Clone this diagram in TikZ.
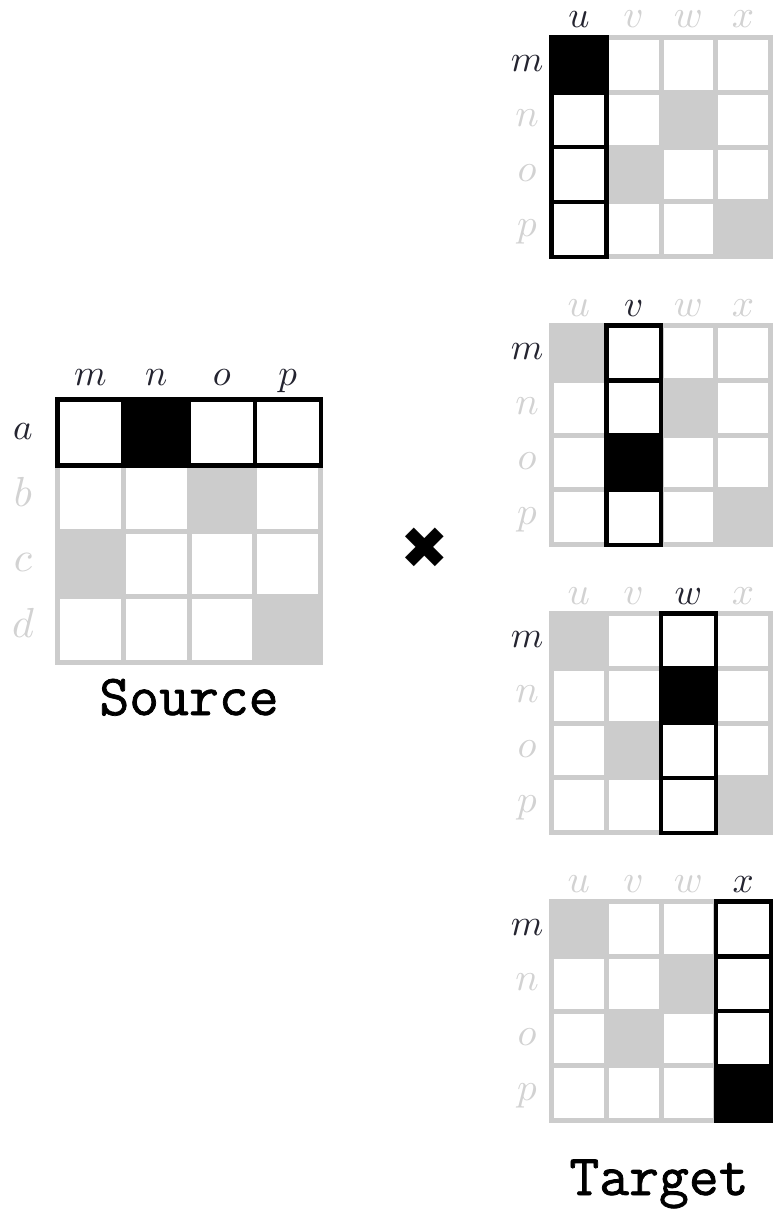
\documentclass[tikz,border=0pt]{standalone}
\usepackage{fontspec}
\newfontfamily\symfont{DejaVu Sans}
\newfontfamily\titlefont[FakeBold=1.3]{Latin Modern Mono}
\definecolor{cellgray}{RGB}{204,204,204}
\definecolor{lblgray}{RGB}{210,210,210}
\definecolor{lbldark}{RGB}{36,36,48}
\tikzset{
  lbl/.style={anchor=base,inner sep=0pt,font=\fontsize{10}{10}\selectfont},
  lblon/.style={lbl,text=lbldark,scale=3.7},
  lbloff/.style={lbl,text=lblgray,scale=3.9},
  lbloffbig/.style={lbl,text=lblgray,scale=4.2},
  hl/.style={draw=black,line width=4.5pt},
  titlelbl/.style={anchor=base,inner sep=0pt,font=\fontsize{58}{58}\selectfont\titlefont},
}
\def\TX{549}\def\TW{224}\def\TP{54.75}
% #1 top, #2 highlighted column, #3 black row, #4 name prefix
\newcommand\drawtarget[4]{%
  \fill[cellgray] (\TX,#1) rectangle ++(\TW,\TW);
  \foreach \r/\pc in {0/0,1/2,2/1,3/3}{
    \foreach \c in {0,...,3}{
      \ifnum\c=\pc\relax\else
        \fill[white] ({\TX+5+\c*\TP},{#1+5+\r*\TP}) rectangle ++(\TP-5,\TP-5);
      \fi
    }
  }
  \pgfmathsetmacro{\gx}{\TX+2.5+#2*\TP}
  \pgfmathsetmacro{\xl}{#2==0 ? \TX+2.25 : \gx}
  \pgfmathsetmacro{\xr}{#2==3 ? \TX+\TW-2.25 : \gx+\TP}
  \fill[white] (\gx,{#1+2.5}) rectangle ++(\TP,4*\TP);
  \fill[black] (\gx,{#1+2.5+#3*\TP}) rectangle ++(\TP,\TP);
  \draw[hl] (\xl,{#1+2.25}) rectangle (\xr,{#1+\TW-2.25});
  \foreach \r in {1,2,3}{
    \draw[hl] (\xl,{#1+2.5+\r*\TP}) -- (\xr,{#1+2.5+\r*\TP});
  }
  \foreach \c/\l in {0/u,1/v,2/w,3/x}{
    \ifnum\c=#2\relax
      \node[lblon] (#4-\l) at ({\TX+2.5+(\c+0.5)*\TP},{#1-7}) {$\l$};
    \else
      \node[lbloff] (#4-\l) at ({\TX+2.5+(\c+0.5)*\TP},{#1-7}) {$\l$};
    \fi
  }
  \foreach \r/\l in {0/m,1/n,2/o,3/p}{
    \ifnum\r=0\relax
      \node[lblon] (#4-\l) at (527,{#1+2.5+(\r+0.5)*\TP+7}) {$\l$};
    \else
      \node[lbloff] (#4-\l) at (527,{#1+2.5+(\r+0.5)*\TP+7}) {$\l$};
    \fi
  }
}
\begin{document}
\begin{tikzpicture}[x=1pt,y=-1pt]
\useasboundingbox (0,0) rectangle (772,1215);
% ---------- source ----------
\def\SX{55}\def\SY{397}\def\SW{268}\def\SP{65.75}
\fill[cellgray] (\SX,\SY) rectangle ++(\SW,\SW);
\foreach \r/\pc in {0/1,1/2,2/0,3/3}{
  \foreach \c in {0,...,3}{
    \ifnum\c=\pc\relax\else
      \fill[white] ({\SX+5+\c*\SP},{\SY+5+\r*\SP}) rectangle ++(\SP-5,\SP-5);
    \fi
  }
}
\fill[white] ({\SX+2.5},{\SY+2.5}) rectangle ++(4*\SP,\SP);
\fill[black] ({\SX+2.5+\SP},{\SY+2.5}) rectangle ++(\SP,\SP);
\draw[hl] ({\SX+2.25},{\SY+2.25}) rectangle ({\SX+\SW-2.25},{\SY+2.5+\SP});
\foreach \c in {1,2,3}{
  \draw[hl] ({\SX+2.5+\c*\SP},{\SY+2.25}) -- ({\SX+2.5+\c*\SP},{\SY+2.5+\SP});
}
\foreach \c/\l in {0/m,1/n,2/o,3/p}{
  \node[lblon] (s-\l) at ({\SX+2.5+(\c+0.5)*\SP},385) {$\l$};
}
\foreach \r/\l in {0/a,1/b,2/c,3/d}{
  \ifnum\r=0\relax
    \node[lblon] (s-\l) at (23,{\SY+2.5+(\r+0.5)*\SP+7}) {$\l$};
  \else
    \node[lbloffbig] (s-\l) at (23,{\SY+2.5+(\r+0.5)*\SP+8}) {$\l$};
  \fi
}
\node[titlelbl] (source) at (189,715) {Source};
% ---------- times ----------
\node[inner sep=0pt,font=\symfont\fontsize{58}{58}\selectfont] (times) at (425,548) {✖};
% ---------- targets ----------
\drawtarget{35}{0}{0}{t1}
\drawtarget{323}{1}{2}{t2}
\drawtarget{611}{2}{1}{t3}
\drawtarget{899}{3}{3}{t4}
\node[titlelbl] (target) at (659,1195) {Target};
\end{tikzpicture}
\end{document}
